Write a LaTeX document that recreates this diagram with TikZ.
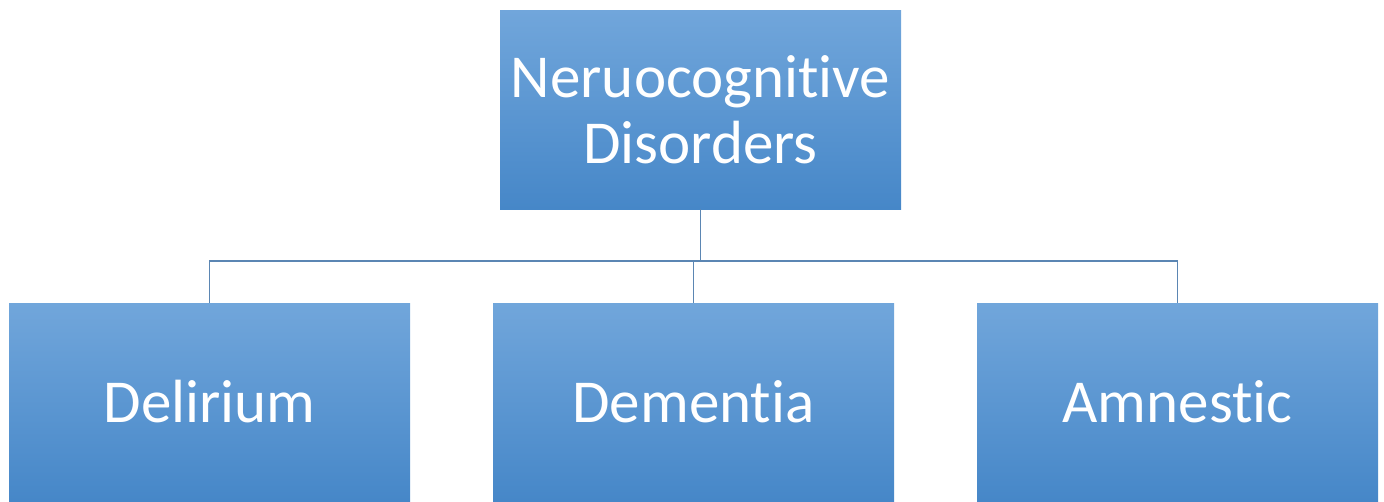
\documentclass[tikz,border=0pt]{standalone}
\usepackage{fontspec}
\setmainfont{Carlito}[Ligatures=NoCommon]
\usepackage{xcolor}
\usepackage{tikz}

\definecolor{boxtop}{HTML}{71A6DB}
\definecolor{boxmid}{HTML}{5A9BD8}
\definecolor{boxbot}{HTML}{4687C8}
\definecolor{linkcol}{HTML}{5B86B3}

\begin{document}
\begin{tikzpicture}[x=1pt,y=-1pt,
  box/.style={rectangle,inner sep=0pt,minimum width=401pt,
    top color=boxtop,middle color=boxmid,bottom color=boxbot,
    text=white,align=center,font=\fontsize{61}{66}\selectfont},
  link/.style={draw=linkcol,line width=1.5pt}]
\useasboundingbox (0,0) rectangle (1384,501);
\node[box,minimum height=199pt] (ncd) at (700.5,109.5) {Neruocognitive\\Disorders};
\node[box,minimum height=198pt] (del) at (209.5,402) {Delirium};
\node[box,minimum height=198pt] (dem) at (693.5,402) {Dementia};
\node[box,minimum height=198pt] (amn) at (1177.5,402) {Amnestic};
\coordinate (bar) at (0,261);
% connectors
\draw[link] (ncd.south) -- (ncd.south |- bar);
\draw[link] (del.north) -- (del.north |- bar) -- (amn.north |- bar) -- (amn.north);
\draw[link] (dem.north) -- (dem.north |- bar);
\end{tikzpicture}
\end{document}
